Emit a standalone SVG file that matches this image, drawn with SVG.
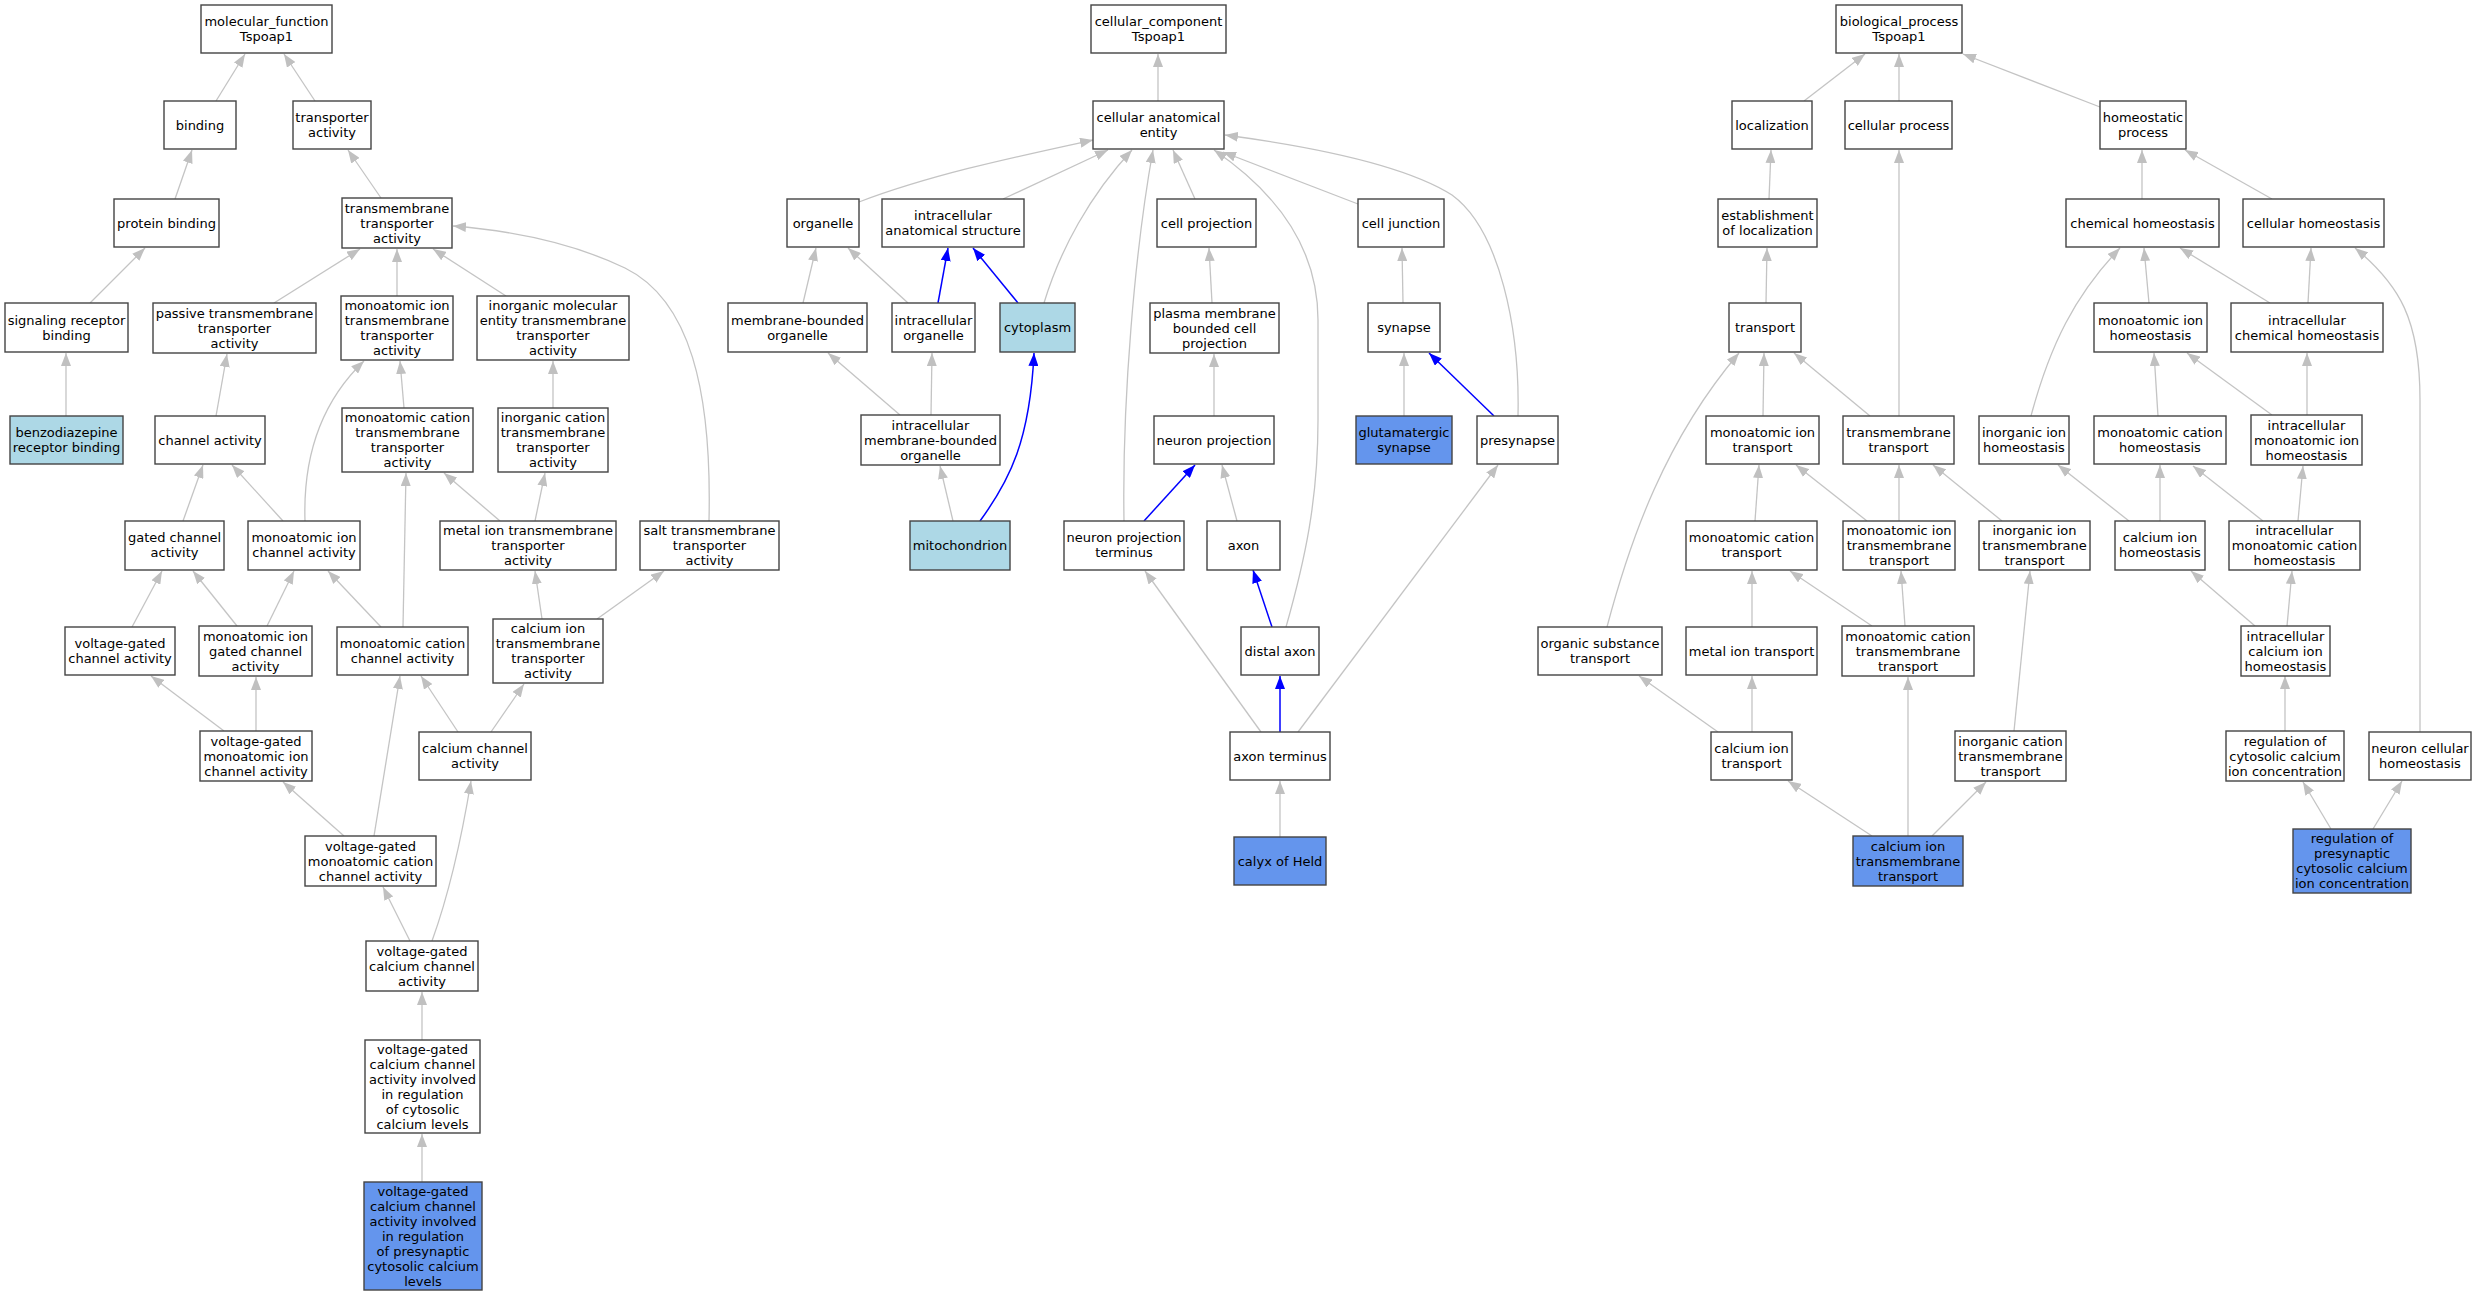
<svg xmlns="http://www.w3.org/2000/svg" width="2476" height="1296" viewBox="0 0 2476 1296">
<style>
.node rect{fill:#ffffff;stroke:#444444;stroke-width:1.4}
.node.lb rect{fill:#add8e6}
.node.cb rect{fill:#6495ed}
.node text{font-family:"DejaVu Sans","Liberation Sans",sans-serif;font-size:13px;text-anchor:middle;fill:#000}
.e{fill:none;stroke:#c4c4c4;stroke-width:1.3;marker-end:url(#ag)}
.b{fill:none;stroke:#0000ff;stroke-width:1.5;marker-end:url(#ab)}
</style>
<defs>
<marker id="ag" markerUnits="userSpaceOnUse" markerWidth="13" markerHeight="10" viewBox="0 0 13 10" refX="13" refY="5" orient="auto"><path d="M0,0 L13,5 L0,10 z" fill="#c0c0c0"/></marker>
<marker id="ab" markerUnits="userSpaceOnUse" markerWidth="13" markerHeight="10" viewBox="0 0 13 10" refX="13" refY="5" orient="auto"><path d="M0,0 L13,5 L0,10 z" fill="#0000ff"/></marker>
</defs>
<rect width="2476" height="1296" fill="#ffffff"/>
<g id="edges">
<path class="e" d="M216,101 L245,54"/>
<path class="e" d="M315,101 L284,54"/>
<path class="e" d="M175,199 L192,150"/>
<path class="e" d="M381,198 L348,150"/>
<path class="e" d="M90,303 L145,248"/>
<path class="e" d="M274,303 L360,249"/>
<path class="e" d="M397,296 L397,249"/>
<path class="e" d="M506,296 L433,249"/>
<path class="e" d="M709,521 C712,390 690,300 625,268 C575,244 515,231 453,226"/>
<path class="e" d="M66,416 L66,353"/>
<path class="e" d="M216,416 L227,354"/>
<path class="e" d="M305,521 C303,460 318,405 364,361"/>
<path class="e" d="M404,408 L400,361"/>
<path class="e" d="M553,408 L553,361"/>
<path class="e" d="M183,521 L203,465"/>
<path class="e" d="M283,521 L232,465"/>
<path class="e" d="M500,521 L444,473"/>
<path class="e" d="M535,521 L545,473"/>
<path class="e" d="M132,627 L162,571"/>
<path class="e" d="M237,626 L193,571"/>
<path class="e" d="M267,626 L294,571"/>
<path class="e" d="M381,627 L328,571"/>
<path class="e" d="M403,627 L406,473"/>
<path class="e" d="M542,619 L535,571"/>
<path class="e" d="M597,619 L664,571"/>
<path class="e" d="M224,731 L151,676"/>
<path class="e" d="M256,731 L256,677"/>
<path class="e" d="M458,732 L421,676"/>
<path class="e" d="M491,732 L524,684"/>
<path class="e" d="M344,836 L283,782"/>
<path class="e" d="M374,836 L400,676"/>
<path class="e" d="M410,941 L383,887"/>
<path class="e" d="M432,941 C445,905 458,860 471,781"/>
<path class="e" d="M422,1040 L422,992"/>
<path class="e" d="M422,1182 L422,1134"/>
<path class="e" d="M1158,101 L1158,54"/>
<path class="e" d="M859,202 C930,175 1010,158 1093,140"/>
<path class="e" d="M1003,199 L1108,150"/>
<path class="e" d="M1044,303 C1060,250 1090,195 1132,150"/>
<path class="e" d="M1124,521 C1122,400 1135,250 1153,150"/>
<path class="e" d="M1195,199 L1173,150"/>
<path class="e" d="M1358,204 L1223,152"/>
<path class="e" d="M1518,416 C1520,330 1500,230 1452,195 C1400,162 1300,145 1225,135"/>
<path class="e" d="M1286,627 C1305,560 1318,500 1318,420 L1318,320 C1318,250 1280,195 1214,150"/>
<path class="e" d="M803,303 L816,248"/>
<path class="e" d="M908,303 L848,248"/>
<path class="b" d="M938,303 L948,248"/>
<path class="b" d="M1018,303 L973,248"/>
<path class="e" d="M1212,303 L1209,248"/>
<path class="e" d="M1403,303 L1402,248"/>
<path class="e" d="M900,415 L828,353"/>
<path class="e" d="M931,415 L932,353"/>
<path class="b" d="M980,521 C1010,480 1030,440 1034,353"/>
<path class="e" d="M1214,416 L1214,354"/>
<path class="e" d="M1404,416 L1404,353"/>
<path class="b" d="M1494,416 L1429,353"/>
<path class="e" d="M953,521 L940,466"/>
<path class="b" d="M1144,521 L1195,465"/>
<path class="e" d="M1237,521 L1222,465"/>
<path class="b" d="M1272,627 L1253,570"/>
<path class="e" d="M1261,732 L1145,571"/>
<path class="b" d="M1280,732 L1280,676"/>
<path class="e" d="M1298,732 L1498,465"/>
<path class="e" d="M1280,837 L1280,781"/>
<path class="e" d="M1804,101 L1865,54"/>
<path class="e" d="M1899,101 L1899,54"/>
<path class="e" d="M2100,107 L1963,54"/>
<path class="e" d="M1769,199 L1771,150"/>
<path class="e" d="M2142,199 L2142,150"/>
<path class="e" d="M2272,199 L2185,150"/>
<path class="e" d="M1766,303 L1767,248"/>
<path class="e" d="M1899,416 L1899,150"/>
<path class="e" d="M2149,303 L2144,248"/>
<path class="e" d="M2270,303 L2180,248"/>
<path class="e" d="M2308,303 L2311,248"/>
<path class="e" d="M2031,416 C2050,345 2075,295 2120,248"/>
<path class="e" d="M2420,732 L2420,400 C2420,320 2400,285 2355,248"/>
<path class="e" d="M1763,416 L1764,353"/>
<path class="e" d="M1870,416 L1794,353"/>
<path class="e" d="M1607,627 C1630,540 1665,440 1739,353"/>
<path class="e" d="M2158,416 L2154,353"/>
<path class="e" d="M2272,415 L2187,353"/>
<path class="e" d="M2307,415 L2307,353"/>
<path class="e" d="M1755,521 L1759,465"/>
<path class="e" d="M1867,521 L1796,465"/>
<path class="e" d="M1899,521 L1899,465"/>
<path class="e" d="M2002,521 L1933,465"/>
<path class="e" d="M2129,521 L2058,465"/>
<path class="e" d="M2160,521 L2160,465"/>
<path class="e" d="M2263,521 L2193,466"/>
<path class="e" d="M2298,521 L2303,466"/>
<path class="e" d="M1752,627 L1752,571"/>
<path class="e" d="M1872,626 L1790,571"/>
<path class="e" d="M1905,626 L1901,571"/>
<path class="e" d="M2255,626 L2191,571"/>
<path class="e" d="M2287,626 L2292,571"/>
<path class="e" d="M2014,731 L2030,571"/>
<path class="e" d="M1718,732 L1639,676"/>
<path class="e" d="M1752,732 L1752,676"/>
<path class="e" d="M1872,836 L1788,781"/>
<path class="e" d="M1908,836 L1908,677"/>
<path class="e" d="M1932,836 L1986,782"/>
<path class="e" d="M2285,731 L2285,676"/>
<path class="e" d="M2331,829 L2303,782"/>
<path class="e" d="M2373,829 L2402,781"/>
</g>
<g id="n_mf" class="node"><rect x="201" y="5" width="131" height="48"/><text x="266.5" y="26">molecular_function</text><text x="266.5" y="41">Tspoap1</text></g>
<g id="n_binding" class="node"><rect x="164" y="101" width="72" height="48"/><text x="200" y="129.5">binding</text></g>
<g id="n_transporter" class="node"><rect x="293" y="101" width="78" height="48"/><text x="332" y="122">transporter</text><text x="332" y="137">activity</text></g>
<g id="n_protbind" class="node"><rect x="114" y="199" width="105" height="48"/><text x="166.5" y="227.5">protein binding</text></g>
<g id="n_tta" class="node"><rect x="342" y="198" width="110" height="50"/><text x="397" y="212.5">transmembrane</text><text x="397" y="227.5">transporter</text><text x="397" y="242.5">activity</text></g>
<g id="n_srb" class="node"><rect x="5" y="303" width="123" height="49"/><text x="66.5" y="324.5">signaling receptor</text><text x="66.5" y="339.5">binding</text></g>
<g id="n_passive" class="node"><rect x="153" y="303" width="163" height="50"/><text x="234.5" y="317.5">passive transmembrane</text><text x="234.5" y="332.5">transporter</text><text x="234.5" y="347.5">activity</text></g>
<g id="n_mitta" class="node"><rect x="341" y="296" width="112" height="64"/><text x="397" y="310">monoatomic ion</text><text x="397" y="325">transmembrane</text><text x="397" y="340">transporter</text><text x="397" y="355">activity</text></g>
<g id="n_imetta" class="node"><rect x="477" y="296" width="152" height="64"/><text x="553" y="310">inorganic molecular</text><text x="553" y="325">entity transmembrane</text><text x="553" y="340">transporter</text><text x="553" y="355">activity</text></g>
<g id="n_benzo" class="node lb"><rect x="10" y="416" width="113" height="48"/><text x="66.5" y="437">benzodiazepine</text><text x="66.5" y="452">receptor binding</text></g>
<g id="n_channel" class="node"><rect x="155" y="416" width="110" height="48"/><text x="210" y="444.5">channel activity</text></g>
<g id="n_mcatta" class="node"><rect x="342" y="408" width="131" height="64"/><text x="407.5" y="422">monoatomic cation</text><text x="407.5" y="437">transmembrane</text><text x="407.5" y="452">transporter</text><text x="407.5" y="467">activity</text></g>
<g id="n_icatta" class="node"><rect x="498" y="408" width="110" height="64"/><text x="553" y="422">inorganic cation</text><text x="553" y="437">transmembrane</text><text x="553" y="452">transporter</text><text x="553" y="467">activity</text></g>
<g id="n_gated" class="node"><rect x="125" y="521" width="99" height="49"/><text x="174.5" y="542">gated channel</text><text x="174.5" y="557">activity</text></g>
<g id="n_mic" class="node"><rect x="248" y="521" width="112" height="49"/><text x="304" y="542">monoatomic ion</text><text x="304" y="557">channel activity</text></g>
<g id="n_metaltta" class="node"><rect x="440" y="521" width="176" height="49"/><text x="528" y="535">metal ion transmembrane</text><text x="528" y="550">transporter</text><text x="528" y="565">activity</text></g>
<g id="n_salt" class="node"><rect x="640" y="521" width="139" height="49"/><text x="709.5" y="535">salt transmembrane</text><text x="709.5" y="550">transporter</text><text x="709.5" y="565">activity</text></g>
<g id="n_vgc" class="node"><rect x="65" y="627" width="110" height="48"/><text x="120" y="648">voltage-gated</text><text x="120" y="663">channel activity</text></g>
<g id="n_migc" class="node"><rect x="199" y="626" width="113" height="50"/><text x="255.5" y="640.5">monoatomic ion</text><text x="255.5" y="655.5">gated channel</text><text x="255.5" y="670.5">activity</text></g>
<g id="n_mcc" class="node"><rect x="337" y="627" width="131" height="48"/><text x="402.5" y="648">monoatomic cation</text><text x="402.5" y="663">channel activity</text></g>
<g id="n_catta" class="node"><rect x="493" y="619" width="110" height="64"/><text x="548" y="633">calcium ion</text><text x="548" y="648">transmembrane</text><text x="548" y="663">transporter</text><text x="548" y="678">activity</text></g>
<g id="n_vgmic" class="node"><rect x="200" y="731" width="112" height="50"/><text x="256" y="745.5">voltage-gated</text><text x="256" y="760.5">monoatomic ion</text><text x="256" y="775.5">channel activity</text></g>
<g id="n_cca" class="node"><rect x="419" y="732" width="112" height="48"/><text x="475" y="753">calcium channel</text><text x="475" y="768">activity</text></g>
<g id="n_vgmcc" class="node"><rect x="305" y="836" width="131" height="50"/><text x="370.5" y="850.5">voltage-gated</text><text x="370.5" y="865.5">monoatomic cation</text><text x="370.5" y="880.5">channel activity</text></g>
<g id="n_vgcc" class="node"><rect x="366" y="941" width="112" height="50"/><text x="422" y="955.5">voltage-gated</text><text x="422" y="970.5">calcium channel</text><text x="422" y="985.5">activity</text></g>
<g id="n_vgccreg" class="node"><rect x="365" y="1040" width="115" height="93"/><text x="422.5" y="1053.5">voltage-gated</text><text x="422.5" y="1068.5">calcium channel</text><text x="422.5" y="1083.5">activity involved</text><text x="422.5" y="1098.5">in regulation</text><text x="422.5" y="1113.5">of cytosolic</text><text x="422.5" y="1128.5">calcium levels</text></g>
<g id="n_vgccpre" class="node cb"><rect x="364" y="1182" width="118" height="108"/><text x="423" y="1195.5">voltage-gated</text><text x="423" y="1210.5">calcium channel</text><text x="423" y="1225.5">activity involved</text><text x="423" y="1240.5">in regulation</text><text x="423" y="1255.5">of presynaptic</text><text x="423" y="1270.5">cytosolic calcium</text><text x="423" y="1285.5">levels</text></g>
<g id="n_cc" class="node"><rect x="1091" y="5" width="135" height="48"/><text x="1158.5" y="26">cellular_component</text><text x="1158.5" y="41">Tspoap1</text></g>
<g id="n_cae" class="node"><rect x="1093" y="101" width="131" height="48"/><text x="1158.5" y="122">cellular anatomical</text><text x="1158.5" y="137">entity</text></g>
<g id="n_organelle" class="node"><rect x="787" y="199" width="72" height="48"/><text x="823" y="227.5">organelle</text></g>
<g id="n_ias" class="node"><rect x="882" y="199" width="142" height="48"/><text x="953" y="220">intracellular</text><text x="953" y="235">anatomical structure</text></g>
<g id="n_cellproj" class="node"><rect x="1157" y="199" width="99" height="48"/><text x="1206.5" y="227.5">cell projection</text></g>
<g id="n_celljunc" class="node"><rect x="1358" y="199" width="86" height="48"/><text x="1401" y="227.5">cell junction</text></g>
<g id="n_mbo" class="node"><rect x="728" y="303" width="139" height="49"/><text x="797.5" y="324.5">membrane-bounded</text><text x="797.5" y="339.5">organelle</text></g>
<g id="n_io" class="node"><rect x="892" y="303" width="83" height="49"/><text x="933.5" y="324.5">intracellular</text><text x="933.5" y="339.5">organelle</text></g>
<g id="n_cyto" class="node lb"><rect x="1000" y="303" width="75" height="49"/><text x="1037.5" y="332">cytoplasm</text></g>
<g id="n_pmbcp" class="node"><rect x="1150" y="303" width="129" height="50"/><text x="1214.5" y="317.5">plasma membrane</text><text x="1214.5" y="332.5">bounded cell</text><text x="1214.5" y="347.5">projection</text></g>
<g id="n_synapse" class="node"><rect x="1368" y="303" width="72" height="49"/><text x="1404" y="332">synapse</text></g>
<g id="n_imbo" class="node"><rect x="861" y="415" width="139" height="50"/><text x="930.5" y="429.5">intracellular</text><text x="930.5" y="444.5">membrane-bounded</text><text x="930.5" y="459.5">organelle</text></g>
<g id="n_np" class="node"><rect x="1154" y="416" width="120" height="48"/><text x="1214" y="444.5">neuron projection</text></g>
<g id="n_glut" class="node cb"><rect x="1356" y="416" width="96" height="48"/><text x="1404" y="437">glutamatergic</text><text x="1404" y="452">synapse</text></g>
<g id="n_presyn" class="node"><rect x="1477" y="416" width="81" height="48"/><text x="1517.5" y="444.5">presynapse</text></g>
<g id="n_mito" class="node lb"><rect x="910" y="521" width="100" height="49"/><text x="960" y="550">mitochondrion</text></g>
<g id="n_npt" class="node"><rect x="1064" y="521" width="120" height="49"/><text x="1124" y="542">neuron projection</text><text x="1124" y="557">terminus</text></g>
<g id="n_axon" class="node"><rect x="1207" y="521" width="73" height="49"/><text x="1243.5" y="550">axon</text></g>
<g id="n_distal" class="node"><rect x="1241" y="627" width="78" height="48"/><text x="1280" y="655.5">distal axon</text></g>
<g id="n_axonterm" class="node"><rect x="1230" y="732" width="100" height="48"/><text x="1280" y="760.5">axon terminus</text></g>
<g id="n_calyx" class="node cb"><rect x="1234" y="837" width="92" height="48"/><text x="1280" y="865.5">calyx of Held</text></g>
<g id="n_bp" class="node"><rect x="1836" y="5" width="126" height="48"/><text x="1899" y="26">biological_process</text><text x="1899" y="41">Tspoap1</text></g>
<g id="n_loc" class="node"><rect x="1732" y="101" width="80" height="48"/><text x="1772" y="129.5">localization</text></g>
<g id="n_cellproc" class="node"><rect x="1845" y="101" width="107" height="48"/><text x="1898.5" y="129.5">cellular process</text></g>
<g id="n_homeo" class="node"><rect x="2100" y="101" width="86" height="48"/><text x="2143" y="122">homeostatic</text><text x="2143" y="137">process</text></g>
<g id="n_estloc" class="node"><rect x="1718" y="199" width="99" height="48"/><text x="1767.5" y="220">establishment</text><text x="1767.5" y="235">of localization</text></g>
<g id="n_chemhom" class="node"><rect x="2066" y="199" width="153" height="48"/><text x="2142.5" y="227.5">chemical homeostasis</text></g>
<g id="n_cellhom" class="node"><rect x="2243" y="199" width="141" height="48"/><text x="2313.5" y="227.5">cellular homeostasis</text></g>
<g id="n_transport" class="node"><rect x="1729" y="303" width="72" height="49"/><text x="1765" y="332">transport</text></g>
<g id="n_mihom" class="node"><rect x="2094" y="303" width="113" height="49"/><text x="2150.5" y="324.5">monoatomic ion</text><text x="2150.5" y="339.5">homeostasis</text></g>
<g id="n_ichemhom" class="node"><rect x="2231" y="303" width="152" height="49"/><text x="2307" y="324.5">intracellular</text><text x="2307" y="339.5">chemical homeostasis</text></g>
<g id="n_mit" class="node"><rect x="1706" y="416" width="113" height="48"/><text x="1762.5" y="437">monoatomic ion</text><text x="1762.5" y="452">transport</text></g>
<g id="n_tmt" class="node"><rect x="1843" y="416" width="111" height="48"/><text x="1898.5" y="437">transmembrane</text><text x="1898.5" y="452">transport</text></g>
<g id="n_iih" class="node"><rect x="1979" y="416" width="90" height="48"/><text x="2024" y="437">inorganic ion</text><text x="2024" y="452">homeostasis</text></g>
<g id="n_mch" class="node"><rect x="2094" y="416" width="132" height="48"/><text x="2160" y="437">monoatomic cation</text><text x="2160" y="452">homeostasis</text></g>
<g id="n_imih" class="node"><rect x="2251" y="415" width="111" height="50"/><text x="2306.5" y="429.5">intracellular</text><text x="2306.5" y="444.5">monoatomic ion</text><text x="2306.5" y="459.5">homeostasis</text></g>
<g id="n_mct" class="node"><rect x="1686" y="521" width="131" height="49"/><text x="1751.5" y="542">monoatomic cation</text><text x="1751.5" y="557">transport</text></g>
<g id="n_mitmt" class="node"><rect x="1843" y="521" width="112" height="49"/><text x="1899" y="535">monoatomic ion</text><text x="1899" y="550">transmembrane</text><text x="1899" y="565">transport</text></g>
<g id="n_iitmt" class="node"><rect x="1979" y="521" width="111" height="49"/><text x="2034.5" y="535">inorganic ion</text><text x="2034.5" y="550">transmembrane</text><text x="2034.5" y="565">transport</text></g>
<g id="n_cih" class="node"><rect x="2115" y="521" width="90" height="49"/><text x="2160" y="542">calcium ion</text><text x="2160" y="557">homeostasis</text></g>
<g id="n_imch" class="node"><rect x="2229" y="521" width="131" height="49"/><text x="2294.5" y="535">intracellular</text><text x="2294.5" y="550">monoatomic cation</text><text x="2294.5" y="565">homeostasis</text></g>
<g id="n_ost" class="node"><rect x="1538" y="627" width="124" height="48"/><text x="1600" y="648">organic substance</text><text x="1600" y="663">transport</text></g>
<g id="n_mett" class="node"><rect x="1686" y="627" width="131" height="48"/><text x="1751.5" y="655.5">metal ion transport</text></g>
<g id="n_mctmt" class="node"><rect x="1842" y="626" width="132" height="50"/><text x="1908" y="640.5">monoatomic cation</text><text x="1908" y="655.5">transmembrane</text><text x="1908" y="670.5">transport</text></g>
<g id="n_icih" class="node"><rect x="2241" y="626" width="89" height="50"/><text x="2285.5" y="640.5">intracellular</text><text x="2285.5" y="655.5">calcium ion</text><text x="2285.5" y="670.5">homeostasis</text></g>
<g id="n_cit" class="node"><rect x="1711" y="732" width="81" height="48"/><text x="1751.5" y="753">calcium ion</text><text x="1751.5" y="768">transport</text></g>
<g id="n_ictmt" class="node"><rect x="1955" y="731" width="111" height="50"/><text x="2010.5" y="745.5">inorganic cation</text><text x="2010.5" y="760.5">transmembrane</text><text x="2010.5" y="775.5">transport</text></g>
<g id="n_rccc" class="node"><rect x="2226" y="731" width="118" height="50"/><text x="2285" y="745.5">regulation of</text><text x="2285" y="760.5">cytosolic calcium</text><text x="2285" y="775.5">ion concentration</text></g>
<g id="n_nch" class="node"><rect x="2369" y="732" width="102" height="48"/><text x="2420" y="753">neuron cellular</text><text x="2420" y="768">homeostasis</text></g>
<g id="n_citmt" class="node cb"><rect x="1853" y="836" width="110" height="50"/><text x="1908" y="850.5">calcium ion</text><text x="1908" y="865.5">transmembrane</text><text x="1908" y="880.5">transport</text></g>
<g id="n_rpccc" class="node cb"><rect x="2293" y="829" width="118" height="64"/><text x="2352" y="843">regulation of</text><text x="2352" y="858">presynaptic</text><text x="2352" y="873">cytosolic calcium</text><text x="2352" y="888">ion concentration</text></g>
</svg>
